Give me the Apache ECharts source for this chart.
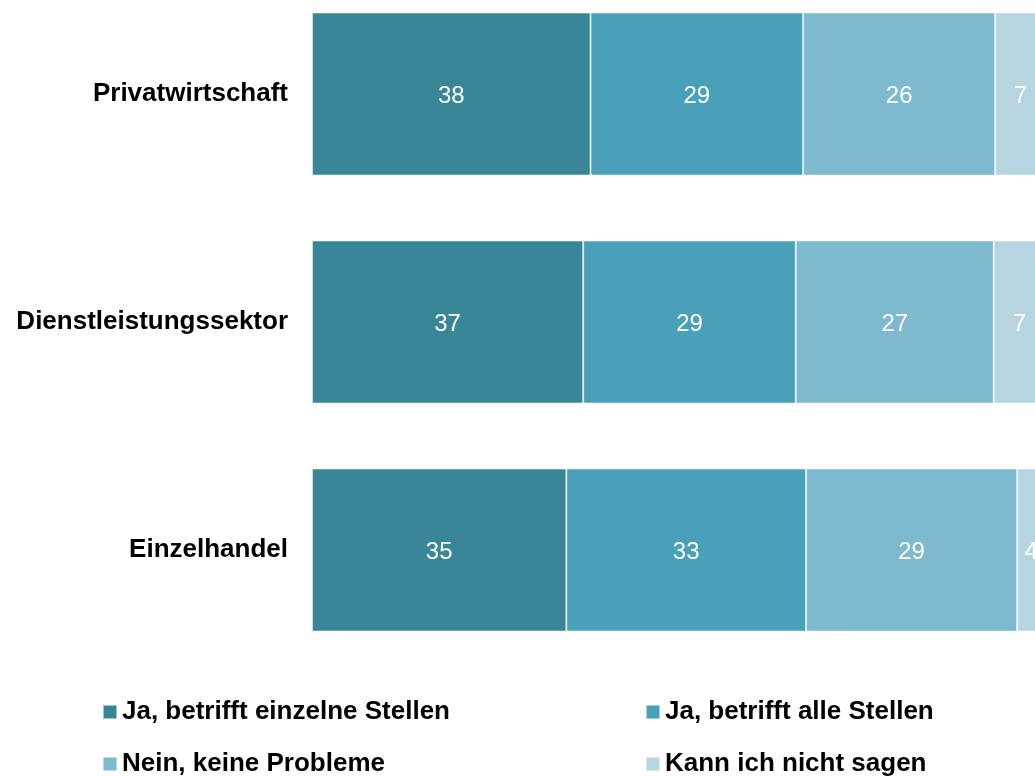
<!DOCTYPE html>
<html><head><meta charset="utf-8">
<script src="https://cdn.jsdelivr.net/npm/echarts@6/dist/echarts.min.js"></script>
<style>html,body{margin:0;padding:0;background:#fff}#c{width:1035px;height:776px}</style>
</head><body><div id="c"></div>
<script>
const categories = ['Privatwirtschaft', 'Dienstleistungssektor', 'Einzelhandel'];
const seriesNames = ['Ja, betrifft einzelne Stellen', 'Ja, betrifft alle Stellen', 'Nein, keine Probleme', 'Kann ich nicht sagen'];
const einzelne = [38, 37, 34.7];
const alle = [29, 29, 32.7];
const keine = [26.2, 27, 28.8];
const nichtSagen = [7, 7, 3.8];
const colors = ['#3a8699', '#48a1b9', '#7db9cf', '#b7d5e0'];
const values = [einzelne, alle, keine, nichtSagen];

const chart = echarts.init(document.getElementById('c'));
const legendPos = [[102, 699], [645, 699], [102, 751], [645, 751]];
chart.setOption({
  animation: false,
  grid: { left: 312, top: -20, width: 733, height: 684, outerBoundsMode: 'none', containLabel: false },
  xAxis: { type: 'value', min: 0, max: 100, show: false },
  yAxis: {
    type: 'category', data: categories, inverse: true,
    axisLine: { show: false }, axisTick: { show: false },
    axisLabel: { margin: 24, padding: [5, 0, 0, 0], fontFamily: 'Liberation Sans, Arial, sans-serif', fontWeight: 'bold', fontSize: 26, color: '#000' }
  },
  legend: seriesNames.map((n, i) => ({
    data: [n], left: legendPos[i][0], top: legendPos[i][1], padding: 0,
    icon: 'rect', itemWidth: 14, itemHeight: 14, itemGap: 0,
    textStyle: { fontFamily: 'Liberation Sans, Arial, sans-serif', fontWeight: 'bold', fontSize: 26, color: '#000', padding: [3, 0, 0, 0] }
  })),
  series: seriesNames.map((n, i) => ({
    name: n, type: 'bar', stack: 'total', data: values[i], barWidth: 163,
    itemStyle: { color: colors[i], borderColor: 'rgba(255,255,255,0.5)', borderWidth: 1 },
    label: { show: true, position: 'inside', offset: [0, 2], color: '#fff', fontSize: 24, fontFamily: 'Liberation Sans, Arial, sans-serif',
      formatter: p => String(Math.round(p.value)) }
  }))
});
</script></body></html>
